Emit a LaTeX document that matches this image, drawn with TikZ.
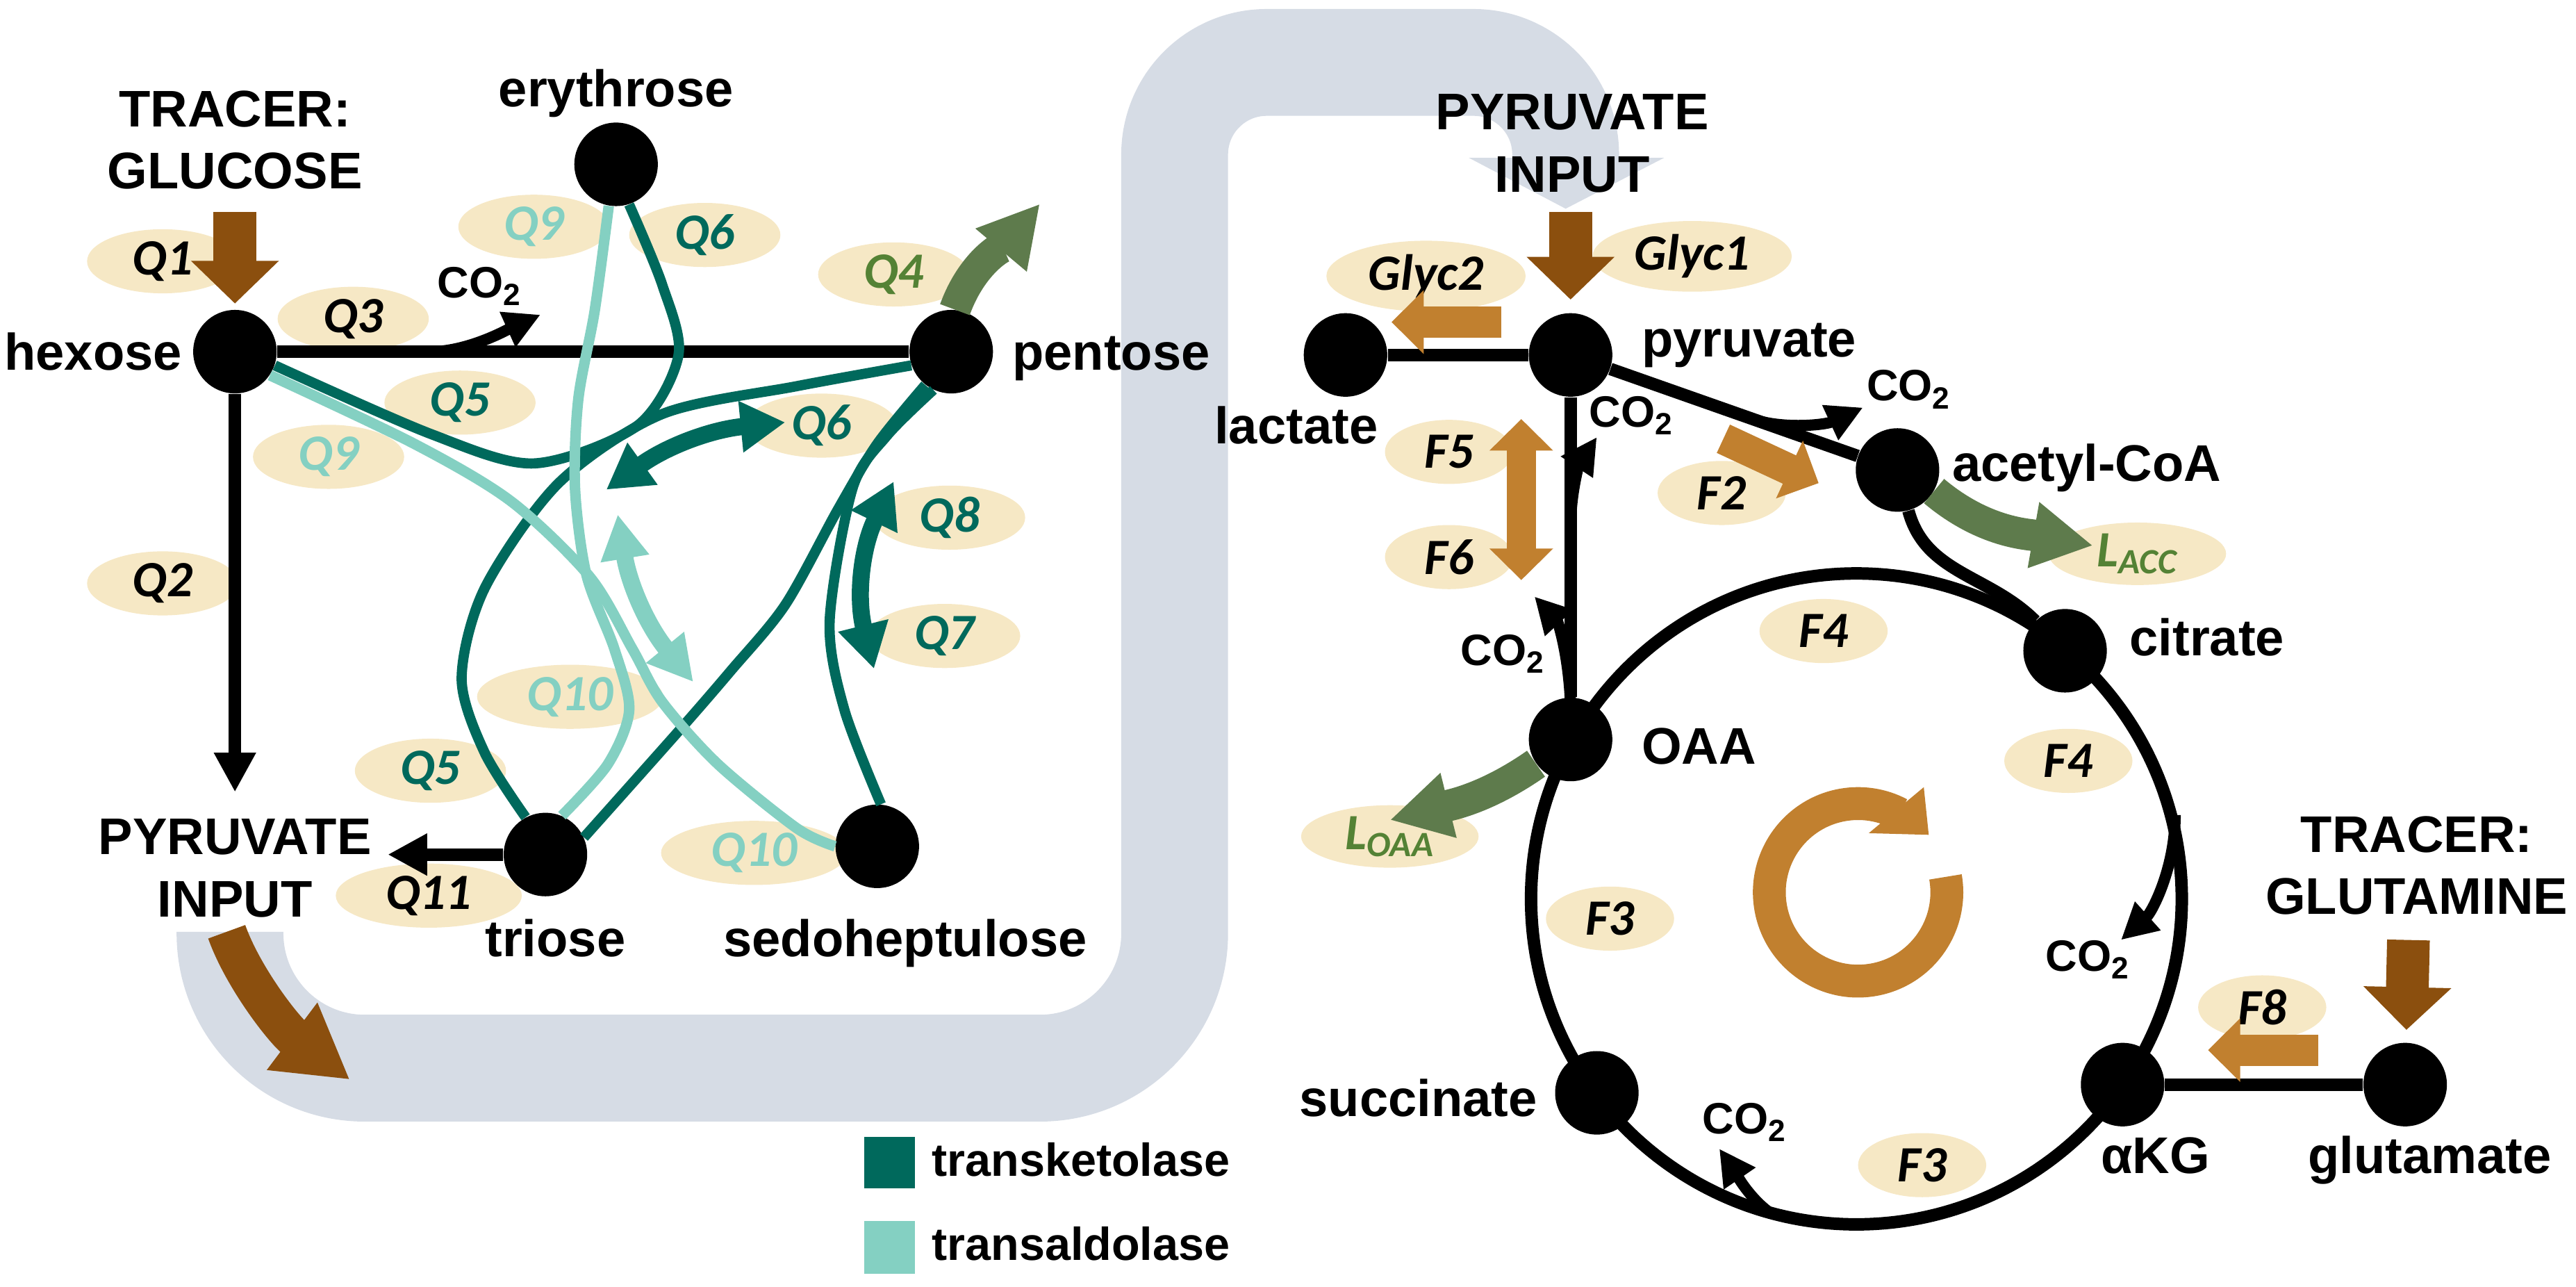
\documentclass[tikz,border=0pt]{standalone}
\usepackage{fontspec}
\setmainfont{Liberation Sans}
\newfontfamily\fluxfont{Carlito}
\usetikzlibrary{arrows.meta,shapes.geometric,positioning}

\definecolor{bandcol}{HTML}{D6DCE5}
\definecolor{fluxbg}{HTML}{F6E8C5}
\definecolor{tkcol}{HTML}{00695C}
\definecolor{tacol}{HTML}{84D0C2}
\definecolor{inbrown}{HTML}{8B4F0E}
\definecolor{fluxorange}{HTML}{C1802F}
\definecolor{outgreen}{HTML}{5E7B4C}
\definecolor{lblgreen}{HTML}{548235}

\begin{document}
\begin{tikzpicture}[x=0.025cm, y=0.025cm,
  met/.style={circle, fill=black, minimum size=1.27cm, inner sep=0pt},
  lbl/.style={font=\bfseries\fontsize{22.3}{27}\selectfont, inner sep=0pt, align=center},
  leg/.style={font=\bfseries\fontsize{20}{24}\selectfont, inner sep=0pt, anchor=base west},
  co2/.style={font=\bfseries\fontsize{19}{22}\selectfont, inner sep=0pt, anchor=base west},
  flux/.style={ellipse, fill=fluxbg, inner sep=0pt, minimum width=2.3cm, minimum height=0.975cm,
    font=\fluxfont\bfseries\itshape\fontsize{22}{24}\selectfont},
  fwide/.style={minimum width=2.83cm},
  fnarrow/.style={minimum width=1.95cm},
  fglyc/.style={minimum width=3.03cm, minimum height=1.075cm},
  fL/.style={minimum width=2.7cm, minimum height=0.95cm},
  link/.style={line width=0.19cm},
  arr/.style={link, -{Triangle[length=0.6cm, width=0.6cm]}},
  co2arr/.style={line width=0.17cm, -{Triangle[length=0.55cm, width=0.55cm]}},
  tk/.style={tkcol, line width=0.155cm},
  ta/.style={tacol, line width=0.16cm},
  tkdbl/.style={tkcol, line width=0.26cm,
    {Triangle[length=0.68cm, width=0.74cm]}-{Triangle[length=0.68cm, width=0.74cm]}},
  tadbl/.style={tacol, line width=0.26cm,
    {Triangle[length=0.68cm, width=0.7cm]}-{Triangle[length=0.68cm, width=0.7cm]}},
  inflow/.style={inbrown, line width=0.65cm, -{Triangle[length=0.65cm, width=1.3cm]}},
  fluxarr/.style={fluxorange, line width=0.475cm, -{Triangle[length=0.49cm, width=0.94cm]}},
  fluxdbl/.style={fluxorange, line width=0.45cm,
    {Triangle[length=0.48cm, width=0.94cm]}-{Triangle[length=0.48cm, width=0.94cm]}},
  outflow/.style={outgreen, line width=0.48cm, -{Triangle[length=0.92cm, width=0.95cm]}}]

  \useasboundingbox (0,0) rectangle (1568,783);

  % pyruvate transfer band
  \draw[bandcol, line width=1.625cm, rounded corners=2.05cm]
    (140,216) -- (140,133) -- (715,133) -- (715,400)
    [rounded corners=1.4cm] -- (715,745) -- (953,745) -- (953,687);
  \fill[bandcol] (894,687) -- (1013,687) -- (953,656) -- cycle;

  % flux labels
  \node[flux] (q1) at (99,624) {Q1};
  \node[flux] (q2) at (99,428) {Q2};
  \node[flux] (q3) at (215,589) {Q3};
  \node[flux, text=lblgreen] (q4) at (544,616) {Q4};
  \node[flux, text=tkcol] (q5a) at (280,538) {Q5};
  \node[flux, text=tkcol] (q5b) at (262,314) {Q5};
  \node[flux, text=tkcol] (q6a) at (429,640) {Q6};
  \node[flux, text=tkcol] (q6b) at (500,524) {Q6};
  \node[flux, text=tkcol] (q7) at (575,396) {Q7};
  \node[flux, text=tkcol] (q8) at (578,468) {Q8};
  \node[flux, text=tacol] (q9a) at (325,645) {Q9};
  \node[flux, text=tacol] (q9b) at (200,505) {Q9};
  \node[flux, fwide, text=tacol] (q10a) at (347,359) {Q10};
  \node[flux, fwide, text=tacol] (q10b) at (459,264) {Q10};
  \node[flux, fwide] (q11) at (261,238) {Q11};
  \node[flux, fglyc] (glyc1) at (1030,627) {Glyc1};
  \node[flux, fglyc] (glyc2) at (868,615) {Glyc2};
  \node[flux, fnarrow] (f2) at (1048,483) {F2};
  \node[flux, fnarrow] (f5) at (882,508) {F5};
  \node[flux, fnarrow] (f6) at (882,444) {F6};
  \node[flux, fnarrow] (f4a) at (1110,399) {F4};
  \node[flux, fnarrow] (f4b) at (1259,320) {F4};
  \node[flux, fnarrow] (f3a) at (980,224) {F3};
  \node[flux, fnarrow] (f3b) at (1170,74) {F3};
  \node[flux, fnarrow] (f8) at (1377,170) {F8};
  \node[flux, fL, text=lblgreen] (lacc) at (1301,446) {L\textsubscript{ACC}};
  \node[flux, fL, text=lblgreen] (loaa) at (846,274) {L\textsubscript{OAA}};

  % metabolites
  \node[met] (hexose) at (143,569) {};
  \node[met] (pentose) at (579,569) {};
  \node[met] (erythrose) at (375,683) {};
  \node[met] (triose) at (332,263) {};
  \node[met] (sedo) at (534,268) {};
  \node[met] (lactate) at (819,567) {};
  \node[met] (pyruvate) at (956,567) {};
  \node[met] (acetylCoA) at (1155,497) {};
  \node[met] (citrate) at (1257,387) {};
  \node[met] (OAA) at (956,333) {};
  \node[met] (succinate) at (972,118) {};
  \node[met] (aKG) at (1292,123) {};
  \node[met] (glutamate) at (1464,123) {};
  \coordinate (tca) at (1130,236);

  % pentose phosphate part
  \draw[link] (hexose) -- (pentose);
  \coordinate (q2end) at (143,301);
  \draw[arr] (hexose) -- (q2end);
  \coordinate (q11end) at (236,263);
  \draw[arr] (triose) -- (q11end);
  \coordinate (co2a) at (262,569);
  \coordinate (co2aend) at (329,591.5);
  \draw[co2arr] (co2a) .. controls (285,569) and (309,582.5) .. (co2aend);

  \draw[tk] plot[smooth] coordinates {(hexose.-19) (262,519) (325,501) (388,524) (413,567) (403,610) (erythrose.-72)};
  \draw[tk] plot[smooth] coordinates {(pentose.199) (485,548) (403,531) (340,489) (295,425) (281,370) (295,325) (triose.118)};
  \draw[tk] plot[smooth] coordinates {(pentose.232) (534,513) (510,473) (478,415) (445,375) (413,338) (triose.24)};
  \draw[tk] plot[smooth] coordinates {(pentose.245) (540,518) (519,486) (505,405) (514,351) (sedo.85)};
  \draw[ta] plot[smooth] coordinates {(hexose.-34) (252,513) (311,478) (359,432) (385,388) (403,356) (437,318) (485,279) (sedo.180)};
  \draw[ta] plot[smooth] coordinates {(erythrose.-100) (362,594) (352,540) (350,486) (357,433) (374,388) (383,351) (370,318) (triose.67)};

  \coordinate (q6s) at (369,485);
  \coordinate (q6t) at (478,526);
  \draw[tkdbl] (q6s) to[bend left=15] (q6t);
  \coordinate (q8s) at (544,490);
  \coordinate (q7t) at (532,376);
  \draw[tkdbl] (q8s) to[bend right=20] (q7t);
  \coordinate (q10s) at (376,470);
  \coordinate (q10t) at (422,368);
  \draw[tadbl] (q10s) to[bend right=15] (q10t);

  \coordinate (q4end) at (633,659);
  \draw[outflow] (pentose.85) to[out=70, in=230] (q4end);

  % inputs
  \coordinate (glcin) at (143,654);
  \draw[inflow, shorten >=0.09cm] (glcin) -- (hexose);
  \coordinate (pyrout) at (138,216);
  \coordinate (pyroutend) at (213,126);
  \draw[inbrown, line width=0.6cm, -{Triangle[length=1.1cm, width=1.2cm]}]
    (pyrout) .. controls (148,188) and (173,156) .. (pyroutend);
  \coordinate (pyrin) at (956,654);
  \draw[inflow, shorten >=0.2cm] (pyrin) -- (pyruvate);
  \coordinate (glnin) at (1466,211);
  \draw[inflow, shorten >=0.19cm] (glnin) -- (glutamate);

  % TCA part
  \draw[link] (lactate) -- (pyruvate);
  \draw[link] (pyruvate) -- (acetylCoA);
  \draw[link] (pyruvate) -- (OAA);
  \draw[link] (aKG) -- (glutamate);
  \draw[link] (acetylCoA) to[out=-75, in=135] (citrate);
  \draw[link] (tca) circle[radius=4.95cm];

  \coordinate (co2b) at (1067,528);
  \coordinate (co2bend) at (1134,535);
  \draw[co2arr] (co2b) .. controls (1085,521.7) and (1111,524.4) .. (co2bend);
  \coordinate (co2c) at (956,462);
  \coordinate (co2cend) at (972,517);
  \draw[co2arr] (co2c) .. controls (956,485) and (962,502) .. (co2cend);
  \coordinate (co2d) at (956,353);
  \coordinate (co2dend) at (934,420);
  \draw[co2arr] (co2d) .. controls (955,385) and (948,405) .. (co2dend);
  \coordinate (co2e) at (1324,287);
  \coordinate (co2eend) at (1291,211);
  \draw[co2arr] (co2e) .. controls (1324,255) and (1310,228) .. (co2eend);
  \coordinate (co2f) at (1076,46);
  \coordinate (co2fend) at (1046.5,84);
  \draw[co2arr] (co2f) .. controls (1063,56) and (1055,71.6) .. (co2fend);

  \coordinate (glyc2s) at (914,587);
  \coordinate (glyc2e) at (847,587);
  \draw[fluxarr] (glyc2s) -- (glyc2e);
  \coordinate (f2s) at (1049,516);
  \coordinate (f2e) at (1107,489);
  \draw[fluxarr] (f2s) -- (f2e);
  \coordinate (f8s) at (1411,144);
  \coordinate (f8e) at (1344,144);
  \draw[fluxarr] (f8s) -- (f8e);
  \coordinate (f5s) at (926,528);
  \coordinate (f6s) at (926,430);
  \draw[fluxdbl] (f5s) -- (f6s);

  \coordinate (laccend) at (1274,451);
  \draw[outflow] (acetylCoA.-30) to[out=-40, in=170] (laccend);
  \coordinate (loaaend) at (846,284);
  \draw[outflow] (OAA.215) to[out=215, in=14] (loaaend);

  % cycle sign
  \draw[fluxorange, line width=0.5cm] (1131,240) ++(10:1.35cm) arc[start angle=10, end angle=-298, radius=1.35cm];
  \fill[fluxorange] (1137.5,276) -- (1171,304) -- (1174,275) -- cycle;

  % texts
  \node[lbl, anchor=base] (glctxt) at (143,668) {TRACER:\\GLUCOSE};
  \node[lbl, anchor=base east] (hexlbl) at (111,558) {hexose};
  \node[lbl, anchor=base west] (pentlbl) at (616,558) {pentose};
  \node[lbl, anchor=base] (erylbl) at (375,718) {erythrose};
  \node[lbl, anchor=base] (trilbl) at (338,201) {triose};
  \node[lbl, anchor=base] (sedolbl) at (551,201) {sedoheptulose};
  \node[lbl, anchor=base] (pyrinL) at (143,225) {PYRUVATE\\INPUT};
  \node[lbl, anchor=base] (pyrinR) at (957,666) {PYRUVATE\\INPUT};
  \node[lbl, anchor=base] (lactlbl) at (789,513) {lactate};
  \node[lbl, anchor=base west] (pyrlbl) at (999,566) {pyruvate};
  \node[lbl, anchor=base west] (acclbl) at (1188,490) {acetyl-CoA};
  \node[lbl, anchor=base west] (citlbl) at (1296,384) {citrate};
  \node[lbl, anchor=base west] (oaalbl) at (999,318) {OAA};
  \node[lbl, anchor=base east] (suclbl) at (936,103.5) {succinate};
  \node[lbl, anchor=base] (akglbl) at (1312,69) {αKG};
  \node[lbl, anchor=base] (glulbl) at (1479,69) {glutamate};
  \node[lbl, anchor=base] (glntxt) at (1471,226.5) {TRACER:\\GLUTAMINE};

  \node[co2] (co2albl) at (266,602) {CO\textsubscript{2}};
  \node[co2] (co2blbl) at (1136,539) {CO\textsubscript{2}};
  \node[co2] (co2clbl) at (967,523) {CO\textsubscript{2}};
  \node[co2] (co2dlbl) at (889,378) {CO\textsubscript{2}};
  \node[co2] (co2elbl) at (1245,192) {CO\textsubscript{2}};
  \node[co2] (co2flbl) at (1036,93) {CO\textsubscript{2}};

  % legend
  \fill[tkcol] (526,60) rectangle (557,91);
  \fill[tacol] (526,8) rectangle (557,40);
  \node[leg] (tklbl) at (567,67.5) {transketolase};
  \node[leg] (talbl) at (567,16) {transaldolase};
\end{tikzpicture}
\end{document}
